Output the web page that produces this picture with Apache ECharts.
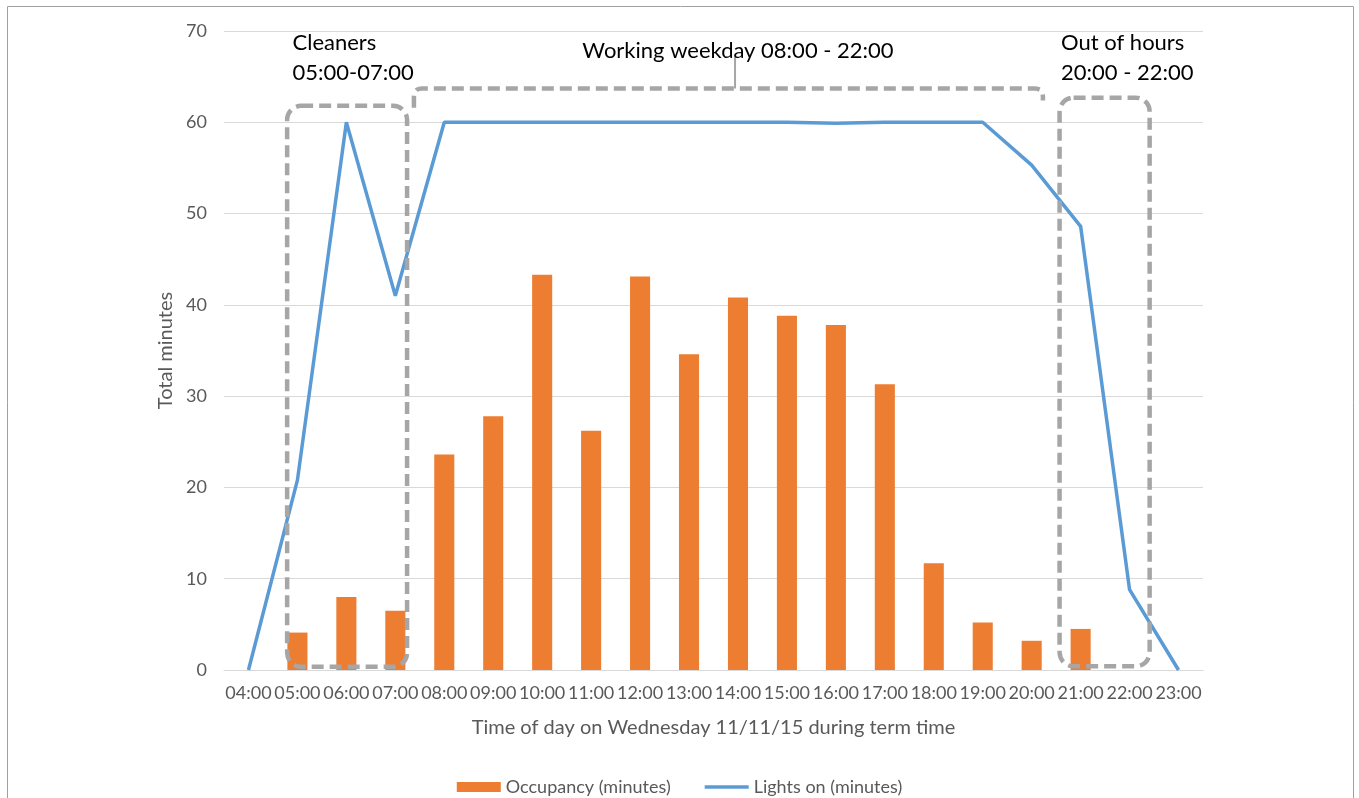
<!DOCTYPE html>
<html>
<head>
<meta charset="utf-8">
<script src="https://cdn.jsdelivr.net/npm/echarts@6/dist/echarts.min.js"></script>
<style>
html,body{margin:0;padding:0;background:#fff;}
#c{width:1359px;height:798px;}
</style>
</head>
<body>
<div id="c"></div>
<script>
var categories = ['04:00','05:00','06:00','07:00','08:00','09:00','10:00','11:00','12:00','13:00','14:00','15:00','16:00','17:00','18:00','19:00','20:00','21:00','22:00','23:00'];
var occupancy = [0, 4.1, 8.0, 6.5, 23.6, 27.8, 43.3, 26.2, 43.1, 34.6, 40.8, 38.8, 37.8, 31.3, 11.7, 5.2, 3.2, 4.5, 0, 0];
var lightsOn = [0, 20.8, 60, 41, 60, 60, 60, 60, 60, 60, 60, 60, 59.9, 60, 60, 60, 55.3, 48.6, 8.8, 0];
var yTicks = [0, 10, 20, 30, 40, 50, 60, 70];
var seriesNames = ['Occupancy (minutes)', 'Lights on (minutes)'];
var xTitle = 'Time of day on Wednesday 11/11/15 during term time';
var yTitle = 'Total minutes';
var annoCleaners = 'Cleaners\n05:00-07:00';
var annoWorking = 'Working weekday 08:00 - 22:00';
var annoOut = 'Out of hours\n20:00 - 22:00';

var FONT = 'Lato, "Liberation Sans", sans-serif';
var chart = echarts.init(document.getElementById('c'), null, {renderer: 'canvas'});
var option = {
  animation: false,
  backgroundColor: '#fff',
  textStyle: {fontFamily: FONT},
  grid: {left: 224, right: 156, top: 31, bottom: 128, containLabel: false},
  legend: {
    data: [{name: seriesNames[0], icon: 'rect'}, {name: seriesNames[1], icon: 'path://M0 0h46v3.5H0z'}],
    left: 'center', top: 773, itemWidth: 44, itemHeight: 10, itemGap: 34,
    textStyle: {fontFamily: FONT, fontSize: 18, color: '#595959'}
  },
  xAxis: {
    type: 'category', data: categories, boundaryGap: true,
    axisLine: {lineStyle: {color: '#d9d9d9', width: 1}},
    axisTick: {show: false},
    axisLabel: {interval: 0, fontSize: 18, color: '#595959', margin: 14, fontFamily: FONT},
    name: xTitle, nameLocation: 'middle', nameGap: 48,
    nameTextStyle: {fontSize: 20, color: '#595959', fontFamily: FONT}
  },
  yAxis: {
    type: 'value', min: yTicks[0], max: yTicks[yTicks.length - 1], interval: 10,
    axisLine: {show: false}, axisTick: {show: false},
    splitLine: {lineStyle: {color: '#d9d9d9', width: 1}},
    axisLabel: {fontSize: 18, color: '#595959', margin: 17, fontFamily: FONT},
    name: yTitle, nameLocation: 'middle', nameGap: 44,
    nameTextStyle: {fontSize: 20, color: '#595959', fontFamily: FONT}
  },
  series: [
    {name: seriesNames[0], type: 'bar', data: occupancy, barWidth: '41%',
     itemStyle: {color: '#ed7d31'}},
    {name: seriesNames[1], type: 'line', data: lightsOn, symbol: 'none',
     lineStyle: {color: '#5b9bd5', width: 3.5}, itemStyle: {color: '#5b9bd5'}}
  ]
};
chart.setOption(option);

function px(idx, val) {
  var a = chart.convertToPixel({gridIndex: 0}, [0, 0]);
  var b = chart.convertToPixel({gridIndex: 0}, [1, 0]);
  var band = b[0] - a[0];
  var y = chart.convertToPixel({yAxisIndex: 0}, val);
  return [a[0] + band * idx, y];
}
var dash = {stroke: '#a6a6a6', lineWidth: 4.5, lineDash: [12, 6], fill: null};

function box(i0, i1, v0, v1) {
  var p0 = px(i0, v1), p1 = px(i1, v0);
  return {type: 'rect', silent: true, z: 100,
    shape: {x: p0[0], y: p0[1], width: p1[0] - p0[0], height: p1[1] - p0[1], r: 14},
    style: dash};
}
var c1 = box(0.79, 3.24, 0.35, 61.8);
var c3 = box(16.57, 18.41, 0.4, 62.7);
var bl = px(3.38, 61.6), bt = px(3.38, 63.7), br = px(16.23, 62.4), brt = px(16.23, 63.7);
var r = 8;
function corner(cx, cy, sx, sy, ex, ey) {
  var pts = [];
  for (var t = 0; t <= 1.0001; t += 0.2) {
    var u = 1 - t;
    pts.push([u * u * sx + 2 * u * t * cx + t * t * ex, u * u * sy + 2 * u * t * cy + t * t * ey]);
  }
  return pts;
}
var bracketPts = [[bl[0], bl[1]]]
  .concat(corner(bl[0], bt[1], bl[0], bt[1] + r, bl[0] + r, bt[1]))
  .concat(corner(br[0], brt[1], br[0] - r, brt[1], br[0], brt[1] + r))
  .concat([[br[0], br[1]]]);
var tk0 = px(9.94, 63.7), tk1 = px(9.94, 67.2);
var tC = px(0.9, 70.3), tW = px(10.0, 67.8), tO = px(16.6, 70.3);

chart.setOption({
  graphic: [
    {type: 'rect', silent: true, shape: {x: 7.5, y: 6.5, width: 1346, height: 820},
     style: {stroke: '#a0a0a0', lineWidth: 1, fill: null}},
    c1, c3,
    {type: 'polyline', silent: true, z: 100, shape: {points: bracketPts}, style: dash},
    {type: 'line', silent: true, z: 100, shape: {x1: tk0[0], y1: tk0[1], x2: tk1[0], y2: tk1[1]},
     style: {stroke: '#a6a6a6', lineWidth: 2}},
    {type: 'text', silent: true, z: 101, x: tC[0], y: tC[1],
     style: {text: annoCleaners, font: '22px ' + FONT, fill: '#000', lineHeight: 30, textVerticalAlign: 'top'}},
    {type: 'text', silent: true, z: 101, x: tW[0], y: tW[1],
     style: {text: annoWorking, font: '22px ' + FONT, fill: '#000', textAlign: 'center', textVerticalAlign: 'middle'}},
    {type: 'text', silent: true, z: 101, x: tO[0], y: tO[1],
     style: {text: annoOut, font: '22px ' + FONT, fill: '#000', lineHeight: 30, textVerticalAlign: 'top'}}
  ]
});
</script>
</body>
</html>
